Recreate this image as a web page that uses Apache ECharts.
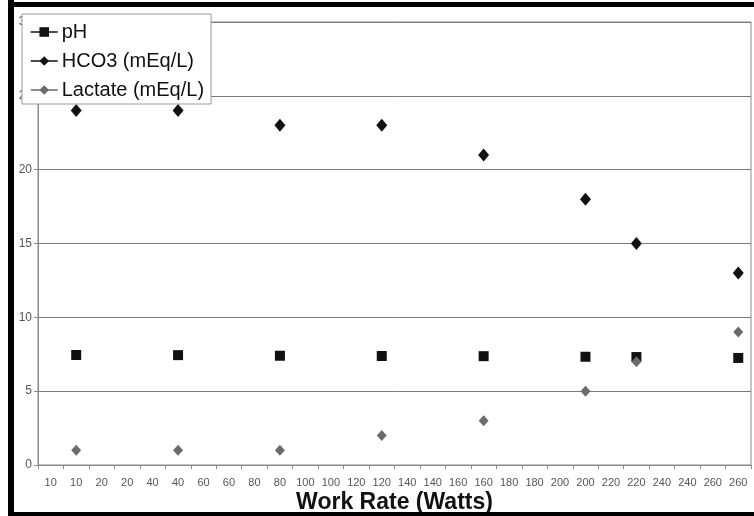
<!DOCTYPE html>
<html>
<head>
<meta charset="utf-8">
<script src="https://cdn.jsdelivr.net/npm/echarts@6/dist/echarts.min.js"></script>
<style>
  html, body { margin: 0; padding: 0; background: #fff; }
  #chart { width: 754px; height: 516px; }
</style>
</head>
<body>
<div id="chart"></div>
<script>
// ---- data ----
var categories = ['10','10','20','20','40','40','60','60','80','80','100','100','120','120','140','140','160','160','180','180','200','200','220','220','240','240','260','260'];
var pointCategoryIndex = [1, 5, 9, 13, 17, 21, 23, 27];   // work rates 10,40,80,120,160,200,220,260
var phValues      = [7.45, 7.44, 7.40, 7.38, 7.37, 7.33, 7.31, 7.25];
var hco3Values    = [24, 24, 23, 23, 21, 18, 15, 13];
var lactateValues = [1, 1, 1, 2, 3, 5, 7, 9];
var yTicks = { min: 0, max: 30, interval: 5 };

function pairs(vals) {
  return pointCategoryIndex.map(function (ci, i) { return [ci, vals[i]]; });
}

var chart = echarts.init(document.getElementById('chart'), null, { renderer: 'canvas' });
var font = 'Liberation Sans, Arial, sans-serif';

function seriesDef(name, vals, symbol, size, color) {
  return {
    name: name,
    type: 'line',
    data: pairs(vals),
    symbol: symbol,
    symbolSize: size,
    showAllSymbol: true,
    itemStyle: { color: color },
    lineStyle: { width: 0, color: color },
    emphasis: { disabled: true },
    z: 3
  };
}

chart.setOption({
  animation: false,
  grid: {
    left: 38, right: 3, top: 22, bottom: 51,
    containLabel: false,
    outerBoundsMode: 'none',
    show: true, borderColor: '#8a8a8a', borderWidth: 1, backgroundColor: '#fff'
  },
  legend: {
    orient: 'vertical',
    left: 22, top: 14,
    backgroundColor: '#fff',
    borderColor: '#9a9a9a', borderWidth: 1,
    padding: [8, 7, 4, 8],
    itemWidth: 27, itemHeight: 12, itemGap: 9,
    textStyle: { fontFamily: font, fontSize: 20, color: '#111', padding: [0,0,0,-1] },
    data: [
      { name: 'pH', lineStyle: { width: 1.5, color: '#111', opacity: 1 } },
      { name: 'HCO3 (mEq/L)', lineStyle: { width: 1.5, color: '#111', opacity: 1 } },
      { name: 'Lactate (mEq/L)', lineStyle: { width: 1.5, color: '#6b6b6b', opacity: 1 } }
    ],
    z: 10
  },
  xAxis: {
    type: 'category',
    data: categories,
    boundaryGap: true,
    axisLine: { lineStyle: { color: '#8a8a8a', width: 1 } },
    axisTick: { show: true, length: 4, interval: 0, lineStyle: { color: '#8a8a8a' } },
    axisLabel: { interval: 0, fontFamily: font, fontSize: 11, color: '#555', margin: 12 },
    name: 'Work Rate (Watts)',
    nameLocation: 'middle',
    nameMoveOverlap: false,
    nameGap: 26,
    nameTextStyle: { fontFamily: font, fontSize: 23, fontWeight: 'bold', color: '#111', verticalAlign: 'top' },
    splitLine: { show: false }
  },
  yAxis: {
    type: 'value',
    min: yTicks.min, max: yTicks.max, interval: yTicks.interval,
    axisLine: { show: true, lineStyle: { color: '#8a8a8a', width: 1 } },
    axisTick: { show: true, length: 4, lineStyle: { color: '#8a8a8a' } },
    axisLabel: { fontFamily: font, fontSize: 12, color: '#555', margin: 6 },
    splitLine: { show: true, lineStyle: { color: '#7a7a7a', width: 1 } }
  },
  series: [
    seriesDef('pH', phValues, 'rect', 10, '#111'),
    seriesDef('HCO3 (mEq/L)', hco3Values, 'diamond', [11, 13], '#111'),
    seriesDef('Lactate (mEq/L)', lactateValues, 'diamond', [10, 11], '#6b6b6b')
  ],
  graphic: [
    { type: 'rect', shape: { x: 8, y: 0, width: 6, height: 516 }, style: { fill: '#000' }, silent: true, z: 20 },
    { type: 'rect', shape: { x: 8, y: 2, width: 746, height: 5 }, style: { fill: '#000' }, silent: true, z: 20 },
    { type: 'rect', shape: { x: 8, y: 512, width: 746, height: 4 }, style: { fill: '#000' }, silent: true, z: 20 }
  ]
});
</script>
</body>
</html>
